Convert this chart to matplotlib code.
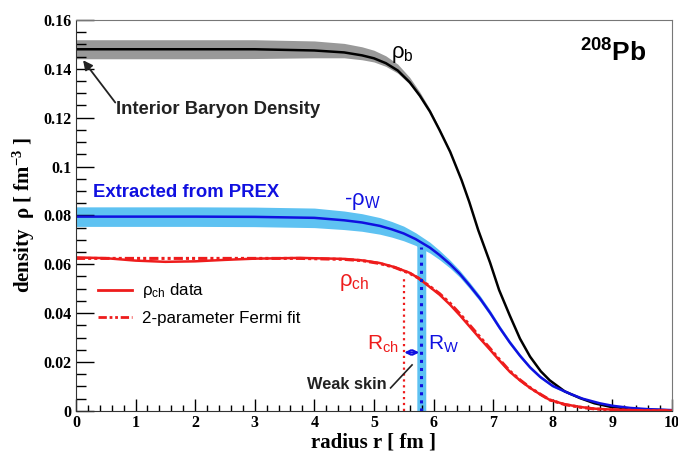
import numpy as np
import matplotlib
matplotlib.use('Agg')
import matplotlib.pyplot as plt
from matplotlib.lines import Line2D
from matplotlib.ticker import MultipleLocator, FuncFormatter

# baryon density rho_b (with band)
r_b = [0, 1, 2, 3, 4, 4.5, 4.8, 5.0, 5.2, 5.4, 5.6, 5.77, 5.94, 6.1, 6.28, 6.47,
       6.6, 6.75, 6.95, 7.1, 7.28, 7.45, 7.62, 7.8, 7.95, 8.2, 8.46, 8.7, 8.96,
       9.3, 9.6, 10]
rho_b = [0.148, 0.148, 0.148, 0.148, 0.1475, 0.1467, 0.1455, 0.1443, 0.1423,
         0.1393, 0.1345, 0.129, 0.1225, 0.115, 0.106, 0.0945, 0.0855, 0.074,
         0.0606, 0.0495, 0.039, 0.0296, 0.0222, 0.0162, 0.0125, 0.0080, 0.0052,
         0.0031, 0.0017, 0.0009, 0.0005, 0.0002]
up_b = [0.0039, 0.0039, 0.0039, 0.0039, 0.0039, 0.0037, 0.0035, 0.0033, 0.003,
        0.0026, 0.002, 0.0015, 0.001, 0.0006, 0.0003] + [0] * 17
dn_b = [0.0039, 0.0039, 0.0039, 0.0038, 0.0030, 0.0022, 0.0018, 0.0015, 0.0013,
        0.0011, 0.0008, 0.0006, 0.0005, 0.0003, 0.0002] + [0] * 17

# weak density from PREX
r_w = [0, 1, 2, 3, 4.0, 4.5, 4.8, 5.1, 5.3, 5.5, 5.7, 5.94, 6.1, 6.28, 6.44,
       6.6, 6.78, 6.95, 7.11, 7.28, 7.45, 7.62, 7.79, 8.0, 8.29, 8.5, 8.79,
       9.0, 9.3, 9.6, 10]
rho_w = [0.0795, 0.0795, 0.0795, 0.0794, 0.079, 0.078, 0.0771, 0.0757, 0.0743,
         0.0726, 0.0703, 0.0668, 0.0638, 0.0600, 0.0561, 0.0515, 0.0460, 0.0401,
         0.034, 0.028, 0.0226, 0.0178, 0.0139, 0.0102, 0.007, 0.005, 0.0031,
         0.0021, 0.0012, 0.0007, 0.0003]
err_w = [0.004, 0.004, 0.004, 0.004, 0.004, 0.0038, 0.0036, 0.0034, 0.0032,
         0.003, 0.0026, 0.0022, 0.0019, 0.0016, 0.0014, 0.0013, 0.0012, 0.0011,
         0.001, 0.0009, 0.0008, 0.0007, 0.0006, 0.0005, 0.0004, 0.0003, 0.0002,
         0.0002, 0.0001, 0.0001, 0]

# charge density data and 2-parameter Fermi fit
r_ch = [0, 0.5, 1.0, 1.5, 2.0, 2.5, 3.0, 3.76, 4.5, 4.8, 5.1, 5.35, 5.6, 5.75,
        5.89, 6.1, 6.28, 6.45, 6.61, 6.78, 6.95, 7.1, 7.28, 7.45, 7.62, 7.8,
        7.95, 8.2, 8.46, 8.7, 9.0, 9.5, 10]
rho_ch = [0.0628, 0.0625, 0.0615, 0.0610, 0.0612, 0.0618, 0.0623, 0.0626, 0.0622,
          0.0616, 0.0605, 0.0588, 0.0565, 0.0543, 0.0516, 0.0476, 0.0434, 0.0389,
          0.0344, 0.0296, 0.025, 0.0208, 0.016, 0.0125, 0.0094, 0.0066, 0.0045,
          0.0027, 0.0016, 0.0009, 0.0005, 0.0002, 0.0001]
rho_fit = [0.0624, 0.0624, 0.0624, 0.0624, 0.0624, 0.0624, 0.0624, 0.0624, 0.0620,
           0.0615, 0.0603, 0.0587, 0.0563, 0.0543, 0.0518, 0.0480, 0.0440, 0.0395,
           0.0350, 0.0302, 0.0255, 0.0212, 0.0163, 0.0127, 0.0095, 0.0067, 0.0045,
           0.0026, 0.0015, 0.0008, 0.0004, 0.0001, 0.0]

R_ch = 5.5
R_w = 5.79
R_w_lo, R_w_hi = 5.72, 5.87

black = 'black'
blue = '#1010e0'
lblue = '#5ec2f2'
red = '#ee1c1c'

plt.rcParams['font.family'] = 'Liberation Sans'
plt.rcParams['mathtext.default'] = 'regular'

fig = plt.figure(figsize=(6.78, 4.53), dpi=100)
ax = fig.add_axes([0.112, 0.093, 0.879, 0.863])

# bands
ax.fill_between(r_b, np.array(rho_b) - np.array(dn_b), np.array(rho_b) + np.array(up_b),
                color='#999999', lw=0)
ax.fill_between(r_w, np.array(rho_w) - np.array(err_w), np.array(rho_w) + np.array(err_w),
                color=lblue, lw=0)
ax.fill_between([R_w_lo, R_w_hi], [0, 0], [0.0685, 0.067], color=lblue, lw=0)

ax.plot(r_b, rho_b, color=black, lw=1.8)
ax.plot(r_w, rho_w, color=blue, lw=1.8)
ax.plot(r_ch, rho_fit, color=red, lw=2.2, ls=(0, (3, 1, 1, 1, 1, 1)))
ax.plot(r_ch, rho_ch, color=red, lw=1.8)

ax.plot([R_ch, R_ch], [0, 0.054], color=red, lw=1.6, ls=':')
ax.plot([R_w, R_w], [0, 0.067], color=blue, lw=2.2, ls=':')

# annotations
ax.annotate('', xy=(0.12, 0.1435), xytext=(0.66, 0.1262),
            arrowprops=dict(arrowstyle='-|>', color='#222222', lw=1.3,
                            mutation_scale=14, shrinkA=0, shrinkB=0))
ax.text(0.68, 0.1232, 'Interior Baryon Density', fontsize=13.3, fontweight='bold',
        color='#222222', ha='left', va='center')
ax.text(0.28, 0.0892, 'Extracted from PREX', fontsize=13.3, fontweight='bold',
        color=blue, ha='left', va='center')
ax.text(5.28, 0.1445, 'ρ$_{b}$', fontsize=16, color=black, ha='left', va='baseline')
ax.text(4.5, 0.0855, '-ρ$_{W}$', fontsize=16, color=blue, ha='left', va='center')
ax.text(4.42, 0.0525, 'ρ$_{ch}$', fontsize=16, color=red, ha='left', va='center')
ax.text(5.42, 0.0250, 'R$_{ch}$', fontsize=15, color=red, ha='right', va='baseline')
ax.text(5.9, 0.0250, 'R$_{W}$', fontsize=15, color=blue, ha='left', va='baseline')
ax.annotate('', xy=(R_w - 0.03, 0.0239), xytext=(R_ch + 0.01, 0.0239),
            arrowprops=dict(arrowstyle='<->', color=blue, lw=1.5,
                            mutation_scale=8, shrinkA=0, shrinkB=0))
ax.text(3.88, 0.0106, 'Weak skin', fontsize=11.8, fontweight='bold', color='#222222',
        ha='left', va='center')
ax.plot([5.28, 5.64], [0.0094, 0.0188], color='#222222', lw=1.2)
ax.text(8.45, 0.1465, '$^{208}$Pb', fontsize=19, fontweight='bold', color=black,
        ha='left', va='center')

# legend
handles = [Line2D([], [], color=red, lw=2),
           Line2D([], [], color=red, lw=2, ls=(0, (3, 1, 1, 1, 1, 1)))]
ax.legend(handles, ['ρ$_{ch}$ data', '2-parameter Fermi fit'], loc='upper left',
          bbox_to_anchor=(0.012, 0.37), frameon=False, fontsize=12.2,
          handlelength=2.0, handletextpad=0.55, labelspacing=0.6)

ax.set_xlim(0, 10)
ax.set_ylim(0, 0.16)
ax.xaxis.set_major_locator(MultipleLocator(1))
ax.xaxis.set_minor_locator(MultipleLocator(0.2))
ax.yaxis.set_major_locator(MultipleLocator(0.02))
ax.yaxis.set_minor_locator(MultipleLocator(0.005))
ax.yaxis.set_major_formatter(FuncFormatter(lambda v, p: '0' if abs(v) < 1e-9 else ('%.2f' % v).rstrip('0')))
ax.xaxis.set_major_formatter(FuncFormatter(lambda v, p: '%d' % round(v)))

ax.tick_params(axis='x', which='major', direction='in', length=8.5, width=1, pad=3)
ax.tick_params(axis='x', which='minor', direction='in', length=4.3, width=1)
ax.tick_params(axis='y', which='major', direction='in', length=13, width=1, pad=3)
ax.tick_params(axis='y', which='minor', direction='in', length=7, width=1)
ax.tick_params(top=False, right=False, which='both')
for lab in ax.get_xticklabels() + ax.get_yticklabels():
    lab.set_fontfamily('Liberation Serif')
    lab.set_fontweight('bold')
    lab.set_fontsize(11.5)

for s in ['top', 'right']:
    ax.spines[s].set_color('#777777')
ax.spines['left'].set_color('#333333')
ax.spines['bottom'].set_color('#333333')

ax.set_xlabel('radius r [ fm ]', fontfamily='Liberation Serif', fontweight='bold',
              fontsize=15, labelpad=1)
ax.set_ylabel('density  ρ [ fm$^{-3}$ ]', fontfamily='Liberation Serif',
              fontweight='bold', fontsize=15, labelpad=5)

fig.savefig('out.png', dpi=100)
